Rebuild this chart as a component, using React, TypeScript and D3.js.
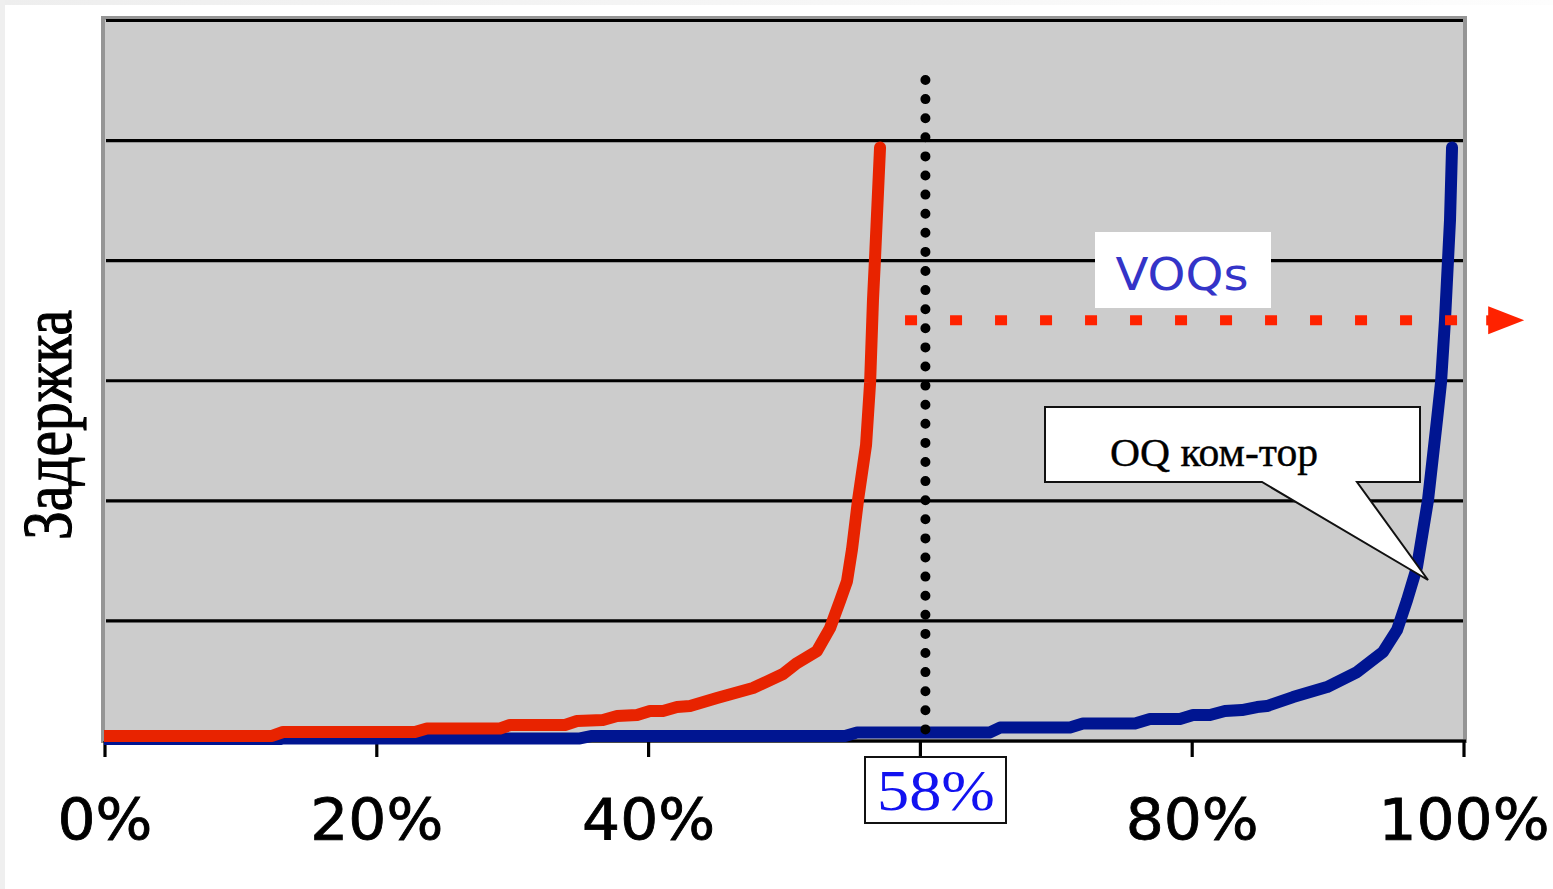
import React from "react";
import * as d3 from "d3";

// ---- data (x: load %, y: delay in grid units) ----
const redX = [0, 12.29, 13.1, 22.81, 23.69, 29.07, 29.8, 33.85, 34.73, 36.64, 37.68, 39.15, 40.1, 41.06, 42.09, 43.05, 45.03, 47.68, 49.89, 50.92, 52.39, 53.35, 54.08, 54.6, 54.97, 55.41, 56.0, 56.3, 56.51, 56.66, 57.03];
const redY = [0.042, 0.042, 0.075, 0.075, 0.104, 0.104, 0.133, 0.133, 0.166, 0.175, 0.208, 0.216, 0.25, 0.25, 0.283, 0.291, 0.358, 0.441, 0.558, 0.649, 0.749, 0.94, 1.165, 1.331, 1.598, 2.005, 2.463, 2.987, 3.67, 4.019, 4.943];

const blueX = [0, 12.29, 13.1, 34.95, 35.84, 54.45, 55.34, 65.12, 65.86, 71.01, 71.96, 75.79, 76.89, 79.1, 80.06, 81.31, 82.41, 83.66, 84.77, 85.5, 87.42, 89.92, 92.13, 94.04, 95.07, 95.81, 96.54, 97.35, 98.01, 98.31, 98.6, 98.97, 99.12];
const blueY = [0, 0, 0.021, 0.021, 0.042, 0.042, 0.071, 0.071, 0.112, 0.112, 0.146, 0.146, 0.183, 0.183, 0.216, 0.216, 0.25, 0.258, 0.283, 0.291, 0.366, 0.449, 0.574, 0.741, 0.924, 1.173, 1.448, 2.005, 2.671, 2.987, 3.503, 4.336, 4.943];

const gridValues = [1, 2, 3, 4, 5, 6];
const tickValues = [0, 20, 40, 60, 80, 100];
const labelValues = [0, 20, 40, 80, 100];
const labelTexts = ["0%", "20%", "40%", "80%", "100%"];

const thresholdX = 60.37;
const thresholdLabel = "58%";
const voqLevel = 3.503;
const voqStart = 58.87;
const voqEnd = 99.5;
const yTitle = "Задержка";
const voqText = "VOQs";
const oqText = "OQ ком-тор";

export default function App() {
  const W = 1553, H = 889;
  const x = d3.scaleLinear().domain([0, 100]).range([105, 1464]);
  const y = d3.scaleLinear().domain([0, 6]).range([741, 20.5]);
  const line = d3
    .line<[number, number]>()
    .x((d) => x(d[0]))
    .y((d) => y(d[1]))
    .curve(d3.curveLinear);
  const redPts = redX.map((v, i) => [v, redY[i]] as [number, number]);
  const bluePts = blueX.map((v, i) => [v, blueY[i]] as [number, number]);

  const yv = y(voqLevel);
  const arrowX0 = x(voqEnd) + 31;

  return (
    <svg
      width={W}
      height={H}
      viewBox={`0 0 ${W} ${H}`}
      style={{ position: "absolute", left: 0, top: 0, display: "block" }}
    >
      <defs>
        <clipPath id="plotClip">
          <rect x={104} y={18} width={1362} height={727} />
        </clipPath>
        <linearGradient id="topfade" x1="0" x2="1" y1="0" y2="0">
          <stop offset="0" stopColor="#eeeeee" />
          <stop offset="1" stopColor="#fdfdfd" />
        </linearGradient>
      </defs>
      <rect x={0} y={0} width={W} height={H} fill="#ffffff" />
      <rect x={0} y={0} width={W} height={5} fill="url(#topfade)" />
      <rect x={0} y={0} width={5} height={H} fill="#efefef" />

      {/* plot area */}
      <rect x={103} y={18} width={1362} height={723} fill="#cccccc" stroke="#959595" strokeWidth={4} />

      {/* gridlines */}
      {gridValues.map((g) => (
        <line key={g} x1={106} x2={1463} y1={y(g)} y2={y(g)} stroke="#000" strokeWidth={3.2} />
      ))}

      {/* axis line and ticks */}
      <line x1={104} x2={1466} y1={y(0)} y2={y(0)} stroke="#000" strokeWidth={3.2} />
      {tickValues.map((t) => (
        <line key={t} x1={x(t)} x2={x(t)} y1={y(0)} y2={y(0) + 16} stroke="#000" strokeWidth={3.2} />
      ))}

      {/* curves */}
      <g clipPath="url(#plotClip)">
        <path d={line(bluePts) || ""} fill="none" stroke="#001591" strokeWidth={12} strokeLinejoin="round" strokeLinecap="round" />
        <path d={line(redPts) || ""} fill="none" stroke="#e82300" strokeWidth={12} strokeLinejoin="round" strokeLinecap="round" />
      </g>

      {/* vertical dotted threshold */}
      <line
        x1={x(thresholdX)}
        x2={x(thresholdX)}
        y1={80}
        y2={y(0) - 2}
        stroke="#000"
        strokeWidth={10}
        strokeLinecap="round"
        strokeDasharray="0 19.1"
      />

      {/* red dotted horizontal arrow */}
      <line
        x1={x(voqStart)}
        x2={x(voqEnd)}
        y1={yv}
        y2={yv}
        stroke="#ff2200"
        strokeWidth={10}
        strokeDasharray="12 33"
      />
      <rect x={arrowX0 - 2} y={yv - 5} width={6} height={10} fill="#ff2200" />
      <path d={`M${arrowX0},${yv - 14} L${arrowX0 + 36},${yv} L${arrowX0},${yv + 14} Z`} fill="#ff2200" />

      {/* VOQs label */}
      <rect x={1095} y={232} width={176} height={76} fill="#ffffff" />
      <text
        x={1182}
        y={290}
        textAnchor="middle"
        fontFamily="DejaVu Sans"
        fontSize={45}
        fill="#3434c8"
        textLength={133}
        lengthAdjust="spacingAndGlyphs"
      >
        {voqText}
      </text>

      {/* OQ callout */}
      <path
        d="M1045,407 H1420 V482 H1357 L1428,580 L1262,482 H1045 Z"
        fill="#ffffff"
        stroke="#111"
        strokeWidth={2}
        strokeLinejoin="miter"
      />
      <text
        x={1214}
        y={466}
        textAnchor="middle"
        fontFamily="Liberation Serif"
        fontSize={41}
        fill="#000"
        stroke="#000"
        strokeWidth={0.4}
        textLength={208}
        lengthAdjust="spacingAndGlyphs"
      >
        {oqText}
      </text>

      {/* 58% box */}
      <rect x={865} y={757} width={141} height={66} fill="#ffffff" stroke="#111" strokeWidth={2} />
      <text
        x={936}
        y={810}
        textAnchor="middle"
        fontFamily="Liberation Serif"
        fontSize={58}
        fill="#1212f0"
        textLength={118}
        lengthAdjust="spacingAndGlyphs"
      >
        {thresholdLabel}
      </text>

      {/* x tick labels */}
      {labelValues.map((v, i) => (
        <text
          key={v}
          transform={`translate(${x(v)},840) scale(1.05,1)`}
          textAnchor="middle"
          fontFamily="DejaVu Sans"
          fontSize={57}
          fill="#000"
          stroke="#000"
          strokeWidth={0.8}
        >
          {labelTexts[i]}
        </text>
      ))}

      {/* y title */}
      <text
        transform="translate(71,425) rotate(-90)"
        textAnchor="middle"
        fontFamily="Liberation Serif"
        fontSize={70}
        fill="#000"
        stroke="#000"
        strokeWidth={1.2}
        textLength={230}
        lengthAdjust="spacingAndGlyphs"
      >
        {yTitle}
      </text>
    </svg>
  );
}
